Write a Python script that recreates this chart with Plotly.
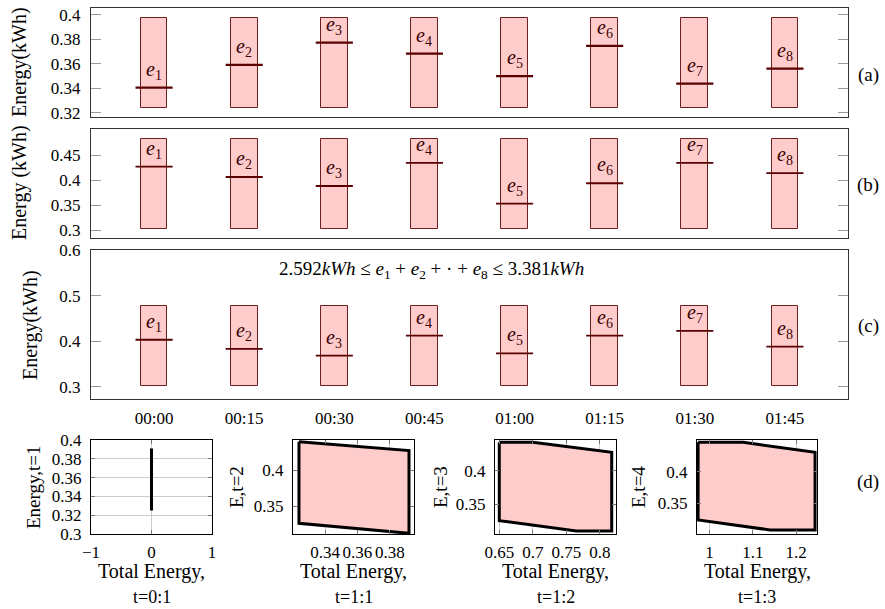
import plotly.graph_objects as go

# ---------------- data ----------------
times = ["00:00", "00:15", "00:30", "00:45", "01:00", "01:15", "01:30", "01:45"]
labels = ["e1", "e2", "e3", "e4", "e5", "e6", "e7", "e8"]

a_lower = [0.3243, 0.3243, 0.3243, 0.3243, 0.3243, 0.3243, 0.3243, 0.3243]
a_upper = [0.3973, 0.3973, 0.3975, 0.3973, 0.3973, 0.3973, 0.3973, 0.3978]
a_value = [0.3407, 0.3592, 0.3774, 0.3684, 0.3500, 0.3747, 0.3439, 0.3562]

b_lower = [0.302, 0.302, 0.302, 0.302, 0.302, 0.302, 0.302, 0.302]
b_upper = [0.482, 0.482, 0.482, 0.482, 0.482, 0.482, 0.482, 0.482]
b_value = [0.4267, 0.4060, 0.3880, 0.4344, 0.3526, 0.3935, 0.4344, 0.4136]

c_lower = [0.301, 0.301, 0.301, 0.301, 0.301, 0.301, 0.301, 0.301]
c_upper = [0.4776, 0.4776, 0.4776, 0.4776, 0.4776, 0.4776, 0.4776, 0.4776]
c_value = [0.4030, 0.3830, 0.3680, 0.4120, 0.3730, 0.4120, 0.4227, 0.3880]

a_ticks = [0.32, 0.34, 0.36, 0.38, 0.4]
a_ticktext = ["0.32", "0.34", "0.36", "0.38", "0.4"]
b_ticks = [0.3, 0.35, 0.4, 0.45]
b_ticktext = ["0.3", "0.35", "0.4", "0.45"]
c_ticks = [0.3, 0.4, 0.5, 0.6]
c_ticktext = ["0.3", "0.4", "0.5", "0.6"]

# (d) feasible regions
d1_x = [0, 0]
d1_y = [0.325, 0.391]
d2_x = [0.3238, 0.3919, 0.3919, 0.3238, 0.3238]
d2_y = [0.4402, 0.4278, 0.3120, 0.3260, 0.4402]
d3_x = [0.650, 0.700, 0.8176, 0.8176, 0.765, 0.650, 0.650]
d3_y = [0.4427, 0.4427, 0.4277, 0.3095, 0.3095, 0.3250, 0.4427]
d4_x = [0.9735, 1.078, 1.244, 1.244, 1.140, 0.9735, 0.9735]
d4_y = [0.4466, 0.4466, 0.4307, 0.3074, 0.3074, 0.3233, 0.4466]

d1_xticks = [-1, 0, 1]
d1_xtext = ["\u22121", "0", "1"]
d1_yticks = [0.3, 0.32, 0.34, 0.36, 0.38, 0.4]
d1_ytext = ["0.3", "0.32", "0.34", "0.36", "0.38", "0.4"]
d2_xticks = [0.34, 0.36, 0.38]
d2_xtext = ["0.34", "0.36", "0.38"]
d3_xticks = [0.65, 0.7, 0.75, 0.8]
d3_xtext = ["0.65", "0.7", "0.75", "0.8"]
d4_xticks = [1.0, 1.1, 1.2]
d4_xtext = ["1", "1.1", "1.2"]
d_yticks = [0.35, 0.4]
d_ytext = ["0.35", "0.4"]

d_titles = ["Energy,t=1", "E,t=2", "E,t=3", "E,t=4"]
d_sub = ["t=0:1", "t=1:1", "t=1:2", "t=1:3"]

# ---------------- styling ----------------
W, H = 885, 609
FONT = "Liberation Serif, Times New Roman, DejaVu Serif, serif"
FILL = "#ffcccc"
EDGE = "#6e1f1f"
MED = "#5a0000"
FRAME = "#333333"
TICKC = "#9a9a9a"


def xd(l, r):
    return [l / W, r / W]


def yd(t, b):
    return [1 - b / H, 1 - t / H]


fig = go.Figure()

panels = [
    (a_lower, a_upper, a_value, "x", "y"),
    (b_lower, b_upper, b_value, "x2", "y2"),
    (c_lower, c_upper, c_value, "x3", "y3"),
]
xs = list(range(len(times)))
annotations = []
for lo, up, val, xa, ya in panels:
    fig.add_trace(go.Bar(
        x=xs, y=[u - l for u, l in zip(up, lo)], base=lo, width=0.296,
        marker=dict(color=FILL, line=dict(color=EDGE, width=1)),
        xaxis=xa, yaxis=ya, showlegend=False, hoverinfo="skip"))
    fig.add_trace(go.Scatter(
        x=xs, y=val, mode="markers",
        marker=dict(symbol="line-ew", size=26.5,
                    line=dict(color=MED, width=2.2 if ya == "y" else 1.8)),
        xaxis=xa, yaxis=ya, showlegend=False, hoverinfo="skip"))
    for i, v in enumerate(val):
        annotations.append(dict(
            x=i, y=v, xref=xa, yref=ya, yanchor="bottom", yshift=3,
            text="<i>e</i><sub>%s</sub>" % labels[i][1:], showarrow=False,
            font=dict(family=FONT, size=20, color="#3a0000")))

# (d) traces
fig.add_trace(go.Scatter(x=d1_x, y=d1_y, mode="lines",
                         line=dict(color="black", width=3),
                         xaxis="x4", yaxis="y4", showlegend=False))
for px, py, xa, ya in [(d2_x, d2_y, "x5", "y5"), (d3_x, d3_y, "x6", "y6"),
                       (d4_x, d4_y, "x7", "y7")]:
    fig.add_trace(go.Scatter(x=px, y=py, mode="lines", fill="toself",
                             fillcolor=FILL, line=dict(color="black", width=3),
                             xaxis=xa, yaxis=ya, showlegend=False))

tickfont = dict(family=FONT, size=17, color="black")
main_x = dict(range=[-0.7, 7.7], showline=True, linecolor=FRAME, linewidth=1,
              mirror=True, ticks="", showgrid=False, zeroline=False,
              tickfont=tickfont, fixedrange=True, tickangle=0, automargin=False)
main_y = dict(showline=True, linecolor=FRAME, linewidth=1, mirror="ticks",
              ticks="inside", ticklen=10, tickcolor=TICKC, showgrid=False,
              zeroline=False, tickfont=tickfont, ticklabelstandoff=6,
              automargin=False)

layout = dict(
    width=W, height=H, margin=dict(l=0, r=0, t=0, b=0, autoexpand=False),
    paper_bgcolor="white", plot_bgcolor="white", bargap=0,
    font=dict(family=FONT, color="black"),
    xaxis=dict(main_x, domain=xd(91, 848), anchor="y", showticklabels=False),
    yaxis=dict(main_y, domain=yd(8, 117), anchor="x", range=[0.3167, 0.4057],
               tickvals=a_ticks, ticktext=a_ticktext),
    xaxis2=dict(main_x, domain=xd(91, 848), anchor="y2", showticklabels=False),
    yaxis2=dict(main_y, domain=yd(129, 238), anchor="x2", range=[0.284, 0.502],
                tickvals=b_ticks, ticktext=b_ticktext),
    xaxis3=dict(main_x, domain=xd(91, 848), anchor="y3", tickvals=xs,
                ticktext=times, ticklabelstandoff=4),
    yaxis3=dict(main_y, domain=yd(250, 399), anchor="x3", range=[0.273, 0.6],
                tickvals=c_ticks, ticktext=c_ticktext),
)

small_x = dict(showline=True, linecolor="black", linewidth=1, mirror="ticks",
               ticks="inside", ticklen=4, tickcolor="#777", showgrid=True,
               gridcolor="#cccccc", gridwidth=1, zeroline=False,
               tickfont=tickfont, ticklabelstandoff=3, tickangle=0,
               automargin=False)
small_y = dict(small_x, ticklabelstandoff=5)

dspec = [
    ("x4", "y4", (91, 212), [-1, 1], [0.3, 0.4], d1_xticks, d1_xtext, d1_yticks, d1_ytext),
    ("x5", "y5", (293, 414), [0.3201, 0.395], [0.311, 0.4426], d2_xticks, d2_xtext, d_yticks, d_ytext),
    ("x6", "y6", (495, 616), [0.6436, 0.824], [0.305, 0.446], d3_xticks, d3_xtext, d_yticks, d_ytext),
    ("x7", "y7", (697, 817), [0.971, 1.2485], [0.301, 0.4503], d4_xticks, d4_xtext, d_yticks, d_ytext),
]
for xa, ya, (l, r), xr, yr, xtv, xtt, ytv, ytt in dspec:
    xn = "xaxis" + xa[1:]
    yn = "yaxis" + ya[1:]
    layout[xn] = dict(small_x, domain=xd(l, r), anchor=ya, range=xr,
                      tickvals=xtv, ticktext=xtt)
    layout[yn] = dict(small_y, domain=yd(440, 534), anchor=xa, range=yr,
                      tickvals=ytv, ticktext=ytt)

fig.update_layout(**layout)


def paper_ann(x, y, text, size=20, angle=0):
    annotations.append(dict(x=x / W, y=1 - y / H, xref="paper", yref="paper",
                            text=text, showarrow=False, textangle=angle,
                            xanchor="center", yanchor="middle",
                            font=dict(family=FONT, size=size, color="black")))


paper_ann(20, 62, "Energy(kWh)", 20, -90)
paper_ann(20, 183, "Energy (kWh)", 20, -90)
paper_ann(30, 325, "Energy(kWh)", 20, -90)
paper_ann(868, 75, "(a)", 19)
paper_ann(868, 185, "(b)", 19)
paper_ann(868, 326, "(c)", 19)
paper_ann(868, 482, "(d)", 19)
paper_ann(431, 270, "2.592<i>kWh</i> \u2264 <i>e</i><sub>1</sub> + <i>e</i><sub>2</sub> + \u00b7 + <i>e</i><sub>8</sub> \u2264 3.381<i>kWh</i>", 19)

d_title_x = [33, 236, 440, 638]
for (xa, ya, (l, r), *_), t, s, tx in zip(dspec, d_titles, d_sub, d_title_x):
    paper_ann(tx, 487, t, 19, -90)
    paper_ann((l + r) / 2, 571, "Total Energy,", 20)
    paper_ann((l + r) / 2, 597, s, 18)

fig.update_layout(annotations=annotations)
fig.write_html("out.html", config={"displayModeBar": False},
               post_script="document.body.style.margin='0';document.body.style.overflow='hidden';")
